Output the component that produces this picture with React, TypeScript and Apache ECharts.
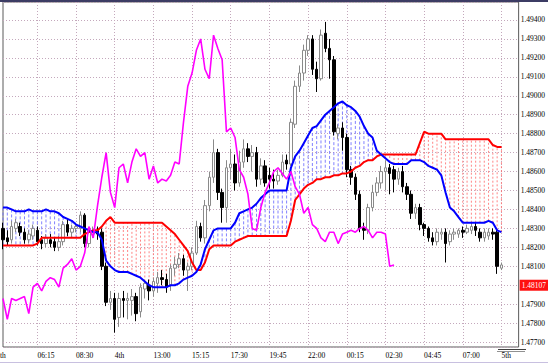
import React, { useEffect, useRef } from "react";
import * as echarts from "echarts";

// [open, close, low, high] per 15-minute bar
const candles: number[][] = [
  [1.4830, 1.4824, 1.4819, 1.4833], [1.4825, 1.4823, 1.4821, 1.4829], [1.4824, 1.4831, 1.4822, 1.4834],
  [1.4830, 1.4833, 1.4828, 1.4835], [1.4831, 1.4828, 1.4826, 1.4833], [1.4828, 1.4824, 1.4822, 1.4830],
  [1.4824, 1.4827, 1.4822, 1.4829], [1.4826, 1.4830, 1.4824, 1.4832], [1.4829, 1.4823, 1.4821, 1.4831],
  [1.4824, 1.4822, 1.4819, 1.4826], [1.4822, 1.4825, 1.4820, 1.4827], [1.4824, 1.4822, 1.4820, 1.4827],
  [1.4823, 1.4820, 1.4818, 1.4825], [1.4820, 1.4823, 1.4818, 1.4826], [1.4823, 1.4832, 1.4821, 1.4834],
  [1.4832, 1.4828, 1.4826, 1.4835], [1.4828, 1.4830, 1.4825, 1.4832], [1.4830, 1.4831, 1.4828, 1.4833],
  [1.4830, 1.4837, 1.4828, 1.4839], [1.4837, 1.4822, 1.4820, 1.4838], [1.4822, 1.4828, 1.4820, 1.4830],
  [1.4827, 1.4829, 1.4825, 1.4831], [1.4829, 1.4827, 1.4824, 1.4831], [1.4828, 1.4810, 1.4808, 1.4830],
  [1.4810, 1.4791, 1.4789, 1.4812], [1.4791, 1.4793, 1.4787, 1.4797], [1.4793, 1.4782, 1.4775, 1.4796],
  [1.4783, 1.4793, 1.4778, 1.4796], [1.4793, 1.4792, 1.4783, 1.4797], [1.4792, 1.4793, 1.4782, 1.4796],
  [1.4792, 1.4794, 1.4784, 1.4798], [1.4794, 1.4785, 1.4781, 1.4796], [1.4786, 1.4799, 1.4783, 1.4801],
  [1.4798, 1.4801, 1.4793, 1.4803], [1.4800, 1.4797, 1.4792, 1.4803], [1.4797, 1.4802, 1.4794, 1.4804],
  [1.4801, 1.4804, 1.4796, 1.4807], [1.4804, 1.4803, 1.4800, 1.4808], [1.4803, 1.4799, 1.4796, 1.4806],
  [1.4800, 1.4809, 1.4797, 1.4811], [1.4809, 1.4811, 1.4805, 1.4815], [1.4811, 1.4814, 1.4809, 1.4817],
  [1.4814, 1.4808, 1.4805, 1.4816], [1.4808, 1.4810, 1.4797, 1.4812], [1.4810, 1.4817, 1.4808, 1.4820],
  [1.4817, 1.4831, 1.4816, 1.4834], [1.4831, 1.4825, 1.4823, 1.4833], [1.4825, 1.4842, 1.4822, 1.4845],
  [1.4842, 1.4857, 1.4839, 1.4860], [1.4857, 1.4870, 1.4854, 1.4877], [1.4870, 1.4849, 1.4845, 1.4872],
  [1.4849, 1.4841, 1.4833, 1.4851], [1.4841, 1.4862, 1.4833, 1.4866], [1.4862, 1.4864, 1.4856, 1.4872],
  [1.4864, 1.4854, 1.4850, 1.4869], [1.4854, 1.4865, 1.4852, 1.4871], [1.4865, 1.4872, 1.4862, 1.4877],
  [1.4872, 1.4868, 1.4865, 1.4875], [1.4868, 1.4870, 1.4860, 1.4874], [1.4870, 1.4856, 1.4852, 1.4873],
  [1.4856, 1.4863, 1.4853, 1.4867], [1.4863, 1.4854, 1.4852, 1.4866], [1.4858, 1.4856, 1.4851, 1.4862],
  [1.4856, 1.4855, 1.4851, 1.4861], [1.4855, 1.4858, 1.4853, 1.4861], [1.4858, 1.4865, 1.4857, 1.4869],
  [1.4866, 1.4864, 1.4861, 1.4869], [1.4864, 1.4886, 1.4863, 1.4888], [1.4885, 1.4905, 1.4883, 1.4908],
  [1.4905, 1.4912, 1.4902, 1.4916], [1.4912, 1.4924, 1.4908, 1.4927], [1.4924, 1.4930, 1.4921, 1.4932],
  [1.4930, 1.4914, 1.4911, 1.4932], [1.4914, 1.4909, 1.4902, 1.4918], [1.4909, 1.4932, 1.4908, 1.4935],
  [1.4933, 1.4925, 1.4923, 1.4939], [1.4925, 1.4919, 1.4909, 1.4930], [1.4919, 1.4881, 1.4879, 1.4921],
  [1.4880, 1.4883, 1.4877, 1.4885], [1.4883, 1.4878, 1.4871, 1.4886], [1.4878, 1.4861, 1.4857, 1.4880],
  [1.4861, 1.4857, 1.4853, 1.4863], [1.4857, 1.4848, 1.4845, 1.4859], [1.4848, 1.4830, 1.4828, 1.4850],
  [1.4830, 1.4829, 1.4824, 1.4833], [1.4829, 1.4841, 1.4827, 1.4843], [1.4841, 1.4849, 1.4839, 1.4853],
  [1.4849, 1.4854, 1.4847, 1.4857], [1.4854, 1.4860, 1.4851, 1.4863], [1.4860, 1.4862, 1.4850, 1.4866],
  [1.4862, 1.4859, 1.4848, 1.4864], [1.4861, 1.4856, 1.4849, 1.4863], [1.4856, 1.4860, 1.4853, 1.4862],
  [1.4860, 1.4852, 1.4849, 1.4863], [1.4852, 1.4848, 1.4845, 1.4854], [1.4848, 1.4838, 1.4835, 1.4850],
  [1.4838, 1.4841, 1.4835, 1.4843], [1.4841, 1.4832, 1.4829, 1.4843], [1.4832, 1.4830, 1.4826, 1.4833],
  [1.4830, 1.4825, 1.4823, 1.4831], [1.4825, 1.4823, 1.4821, 1.4828], [1.4823, 1.4828, 1.4821, 1.4830],
  [1.4827, 1.4828, 1.4824, 1.4830], [1.4828, 1.4822, 1.4812, 1.4830], [1.4823, 1.4827, 1.4821, 1.4829],
  [1.4827, 1.4828, 1.4824, 1.4830], [1.4827, 1.4829, 1.4825, 1.4830], [1.4829, 1.4828, 1.4825, 1.4831],
  [1.4828, 1.4830, 1.4827, 1.4832], [1.4829, 1.4831, 1.4827, 1.4833], [1.4831, 1.4829, 1.4826, 1.4833],
  [1.4828, 1.4825, 1.4823, 1.4830], [1.4825, 1.4828, 1.4823, 1.4830], [1.4826, 1.4828, 1.4824, 1.4830],
  [1.4828, 1.4827, 1.4824, 1.4830], [1.4828, 1.4810, 1.4806, 1.4830], [1.4809, 1.48107, 1.4808, 1.4812],
];

// cloud boundary (blue)
const spanBlue: number[] = [
  1.4841, 1.4841, 1.4840, 1.4839, 1.4839, 1.4839, 1.4840, 1.4839, 1.4839, 1.4839,
  1.4840, 1.4839, 1.4839, 1.4838, 1.4836, 1.4835, 1.4834, 1.4832, 1.4831, 1.4830,
  1.4829, 1.4828, 1.4828, 1.4824, 1.4813, 1.4810, 1.4808, 1.4807, 1.4807, 1.4807,
  1.4806, 1.4805, 1.4804, 1.4802, 1.4800, 1.4799, 1.4799, 1.4799, 1.4799, 1.4800,
  1.4800, 1.4801, 1.4803, 1.4804, 1.4805, 1.4807, 1.4811, 1.4819, 1.4824, 1.4829,
  1.4830, 1.4830, 1.4830, 1.4830, 1.4833, 1.4838, 1.4839, 1.4840, 1.4841, 1.4843,
  1.4846, 1.4848, 1.4850, 1.4850, 1.4850, 1.4850, 1.4850, 1.4862, 1.4868, 1.4871,
  1.4875, 1.4879, 1.4883, 1.4884, 1.4887, 1.4890, 1.4892, 1.4894, 1.4896, 1.4897,
  1.4895, 1.4894, 1.4892, 1.4889, 1.4884, 1.4880, 1.4878, 1.4871, 1.4869, 1.4867,
  1.4865, 1.4864, 1.4864, 1.4864, 1.4864, 1.4866, 1.4866, 1.4866, 1.4865, 1.4863,
  1.4862, 1.4861, 1.4858, 1.4849, 1.4841, 1.4839, 1.4836, 1.4833, 1.4833, 1.4833,
  1.4833, 1.4833, 1.4833, 1.4834, 1.4833, 1.4829, 1.4828,
];

// cloud boundary (red)
const spanRed: number[] = [
  1.4821, 1.4821, 1.4821, 1.4821, 1.4821, 1.4821, 1.4821, 1.4821, 1.4822, 1.4825,
  1.4825, 1.4825, 1.4825, 1.4825, 1.4825, 1.4825, 1.4825, 1.4825, 1.4825, 1.4827,
  1.4828, 1.4829, 1.4829, 1.4831, 1.4834, 1.4836, 1.4833, 1.4833, 1.4833, 1.4833,
  1.4833, 1.4833, 1.4833, 1.4833, 1.4833, 1.4833, 1.4833, 1.4833, 1.4831, 1.4829,
  1.4827, 1.4824, 1.4821, 1.4818, 1.4812, 1.4808, 1.4808, 1.4812, 1.4819, 1.4821,
  1.4821, 1.4821, 1.4821, 1.4821, 1.4823, 1.4824, 1.4825, 1.4826, 1.4826, 1.4826,
  1.4826, 1.4826, 1.4826, 1.4826, 1.4826, 1.4826, 1.4826, 1.4834, 1.4845, 1.4848,
  1.4851, 1.4853, 1.4854, 1.4856, 1.4856, 1.4857, 1.4857, 1.4858, 1.4858, 1.4859,
  1.4859, 1.4860, 1.4862, 1.4863, 1.4865, 1.4866, 1.4866, 1.4868, 1.4869, 1.4869,
  1.4869, 1.4869, 1.4869, 1.4869, 1.4869, 1.4869, 1.4869, 1.4875, 1.4881, 1.4880,
  1.4880, 1.4880, 1.4880, 1.4877, 1.4877, 1.4877, 1.4877, 1.4877, 1.4877, 1.4877,
  1.4877, 1.4877, 1.4877, 1.4877, 1.4874, 1.4873, 1.4873,
];

// lagging line (magenta), drawn from the first bar
const chikou: number[] = [
  1.4793, 1.4782, 1.4793, 1.4792, 1.4793, 1.4794, 1.4785, 1.4799, 1.4801, 1.4797,
  1.4802, 1.4804, 1.4803, 1.4799, 1.4809, 1.4811, 1.4814, 1.4808, 1.4810, 1.4817,
  1.4831, 1.4825, 1.4842, 1.4857, 1.4870, 1.4849, 1.4841, 1.4862, 1.4864, 1.4854,
  1.4865, 1.4872, 1.4868, 1.4870, 1.4856, 1.4863, 1.4854, 1.4856, 1.4855, 1.4858,
  1.4865, 1.4864, 1.4886, 1.4905, 1.4912, 1.4924, 1.4930, 1.4914, 1.4909, 1.4932,
  1.4925, 1.4919, 1.4881, 1.4883, 1.4878, 1.4861, 1.4857, 1.4848, 1.4830, 1.4829,
  1.4841, 1.4849, 1.4854, 1.4860, 1.4862, 1.4859, 1.4856, 1.4860, 1.4852, 1.4848,
  1.4838, 1.4841, 1.4832, 1.4830, 1.4825, 1.4823, 1.4828, 1.4828, 1.4822, 1.4827,
  1.4828, 1.4829, 1.4828, 1.4830, 1.4831, 1.4829, 1.4825, 1.4828, 1.4828, 1.4827,
  1.4810, 1.48107,
];

const tickIndex: number[] = [8, 17, 26, 35, 44, 53, 62, 71, 80, 89, 98, 107, 116];
const tickLabels: string[] = ["06:15", "08:30", "4th", "13:00", "15:15", "17:30", "19:45", "22:00", "00:15", "02:30", "04:45", "07:00", "5th"];
const slotCount = 121;
const lastPrice = 1.48107;
const priceMin = 1.47674;
const priceMax = 1.49495;

const FONT = "Liberation Serif";

export default function App() {
  const ref = useRef<HTMLDivElement>(null);
  useEffect(() => {
    document.body.style.margin = "0";
    if (!ref.current) return;
    const chart = echarts.init(ref.current, null, { renderer: "svg" });
    const categories: string[] = [];
    for (let i = 0; i < slotCount; i++) {
      const k = tickIndex.indexOf(i);
      categories.push(k >= 0 ? tickLabels[k] : "");
    }
    const hatch = spanBlue.map((b, i) => [i, b, spanRed[i]]);
    const gridStyle = { color: "#c4a8bc", type: [1, 2] as any, width: 1 };
    chart.setOption({
      animation: false,
      backgroundColor: "#ffffff",
      grid: { left: 1, right: 27, top: 2, bottom: 16, show: true, borderColor: "#5a5a5a", borderWidth: 1, backgroundColor: "#ffffff" },
      xAxis: {
        type: "category",
        data: categories,
        boundaryGap: false,
        axisLine: { show: false },
        axisTick: { show: false },
        axisLabel: { interval: 0, align: "left", margin: 4, fontSize: 7.5, fontFamily: FONT, color: "#000" },
        splitLine: { show: true, interval: (idx: number) => tickIndex.indexOf(idx) >= 0, lineStyle: gridStyle },
      },
      yAxis: {
        type: "value",
        position: "right",
        min: priceMin,
        max: priceMax,
        splitNumber: 18,
        axisLine: { show: false },
        axisTick: { show: false },
        axisLabel: {
          showMinLabel: false,
          showMaxLabel: false,
          margin: 2,
          fontSize: 7.5,
          fontFamily: FONT,
          color: "#000",
          formatter: (v: number) => v.toFixed(5),
        },
        splitLine: { show: true, lineStyle: gridStyle },
      },
      series: [
        {
          type: "custom",
          z: 1,
          data: hatch,
          encode: { x: 0, y: [1, 2] },
          renderItem: (params: any, api: any) => {
            const i = api.value(0);
            const b = api.value(1);
            const r = api.value(2);
            const p1 = api.coord([i, b]);
            const p2 = api.coord([i, r]);
            const up = b > r;
            return {
              type: "line",
              shape: { x1: p1[0], y1: p1[1], x2: p2[0], y2: p2[1] },
              style: { stroke: up ? "#6c6cff" : "#ff7070", lineWidth: 1, lineDash: up ? [3, 2] : [2, 2], opacity: 0.85 },
            };
          },
        },
        {
          type: "candlestick",
          z: 2,
          data: candles,
          barWidth: 3,
          itemStyle: { color: "#ffffff", color0: "#000000", borderColor: "#8a8a8a", borderColor0: "#000000", borderWidth: 1 },
        },
        { type: "line", z: 3, data: spanRed, symbol: "none", lineStyle: { color: "#ff0000", width: 2 } },
        { type: "line", z: 3, data: spanBlue, symbol: "none", lineStyle: { color: "#0000ff", width: 2 } },
        { type: "line", z: 4, data: chikou, symbol: "none", lineStyle: { color: "#ff00ff", width: 1.6 } },
        {
          type: "line",
          z: 5,
          data: [],
          markLine: {
            silent: true,
            symbol: "none",
            lineStyle: { color: "rgba(255,255,255,0)", width: 1, type: "solid" },
            label: {
              show: true,
              position: "end",
              distance: 1,
              formatter: lastPrice.toFixed(5),
              color: "#ffffff",
              backgroundColor: "#ff1010",
              fontSize: 7.5,
              fontFamily: FONT,
              padding: [2, 2, 1, 2],
            },
            data: [{ yAxis: lastPrice }],
          },
        },
      ],
      graphic: [
        { type: "text", left: 0, top: 351, style: { text: "th", font: `7.5px "${FONT}"`, fill: "#000" } },
        { type: "line", shape: { x1: 0, y1: 1, x2: 548, y2: 1 }, style: { stroke: "#3c3c64", lineWidth: 2 } },
        { type: "line", shape: { x1: 498, y1: 349.5, x2: 526, y2: 349.5 }, style: { stroke: "#404040", lineWidth: 1 } },
        { type: "line", shape: { x1: 497, y1: 351.5, x2: 525, y2: 351.5 }, style: { stroke: "#909090", lineWidth: 1 } },
        { type: "line", shape: { x1: 0, y1: 362.5, x2: 548, y2: 362.5 }, style: { stroke: "#c8c0e0", lineWidth: 1 } },
      ],
    });
    return () => chart.dispose();
  }, []);
  return <div ref={ref} style={{ position: "fixed", left: 0, top: 0, width: 548, height: 363, background: "#fff" }} />;
}
